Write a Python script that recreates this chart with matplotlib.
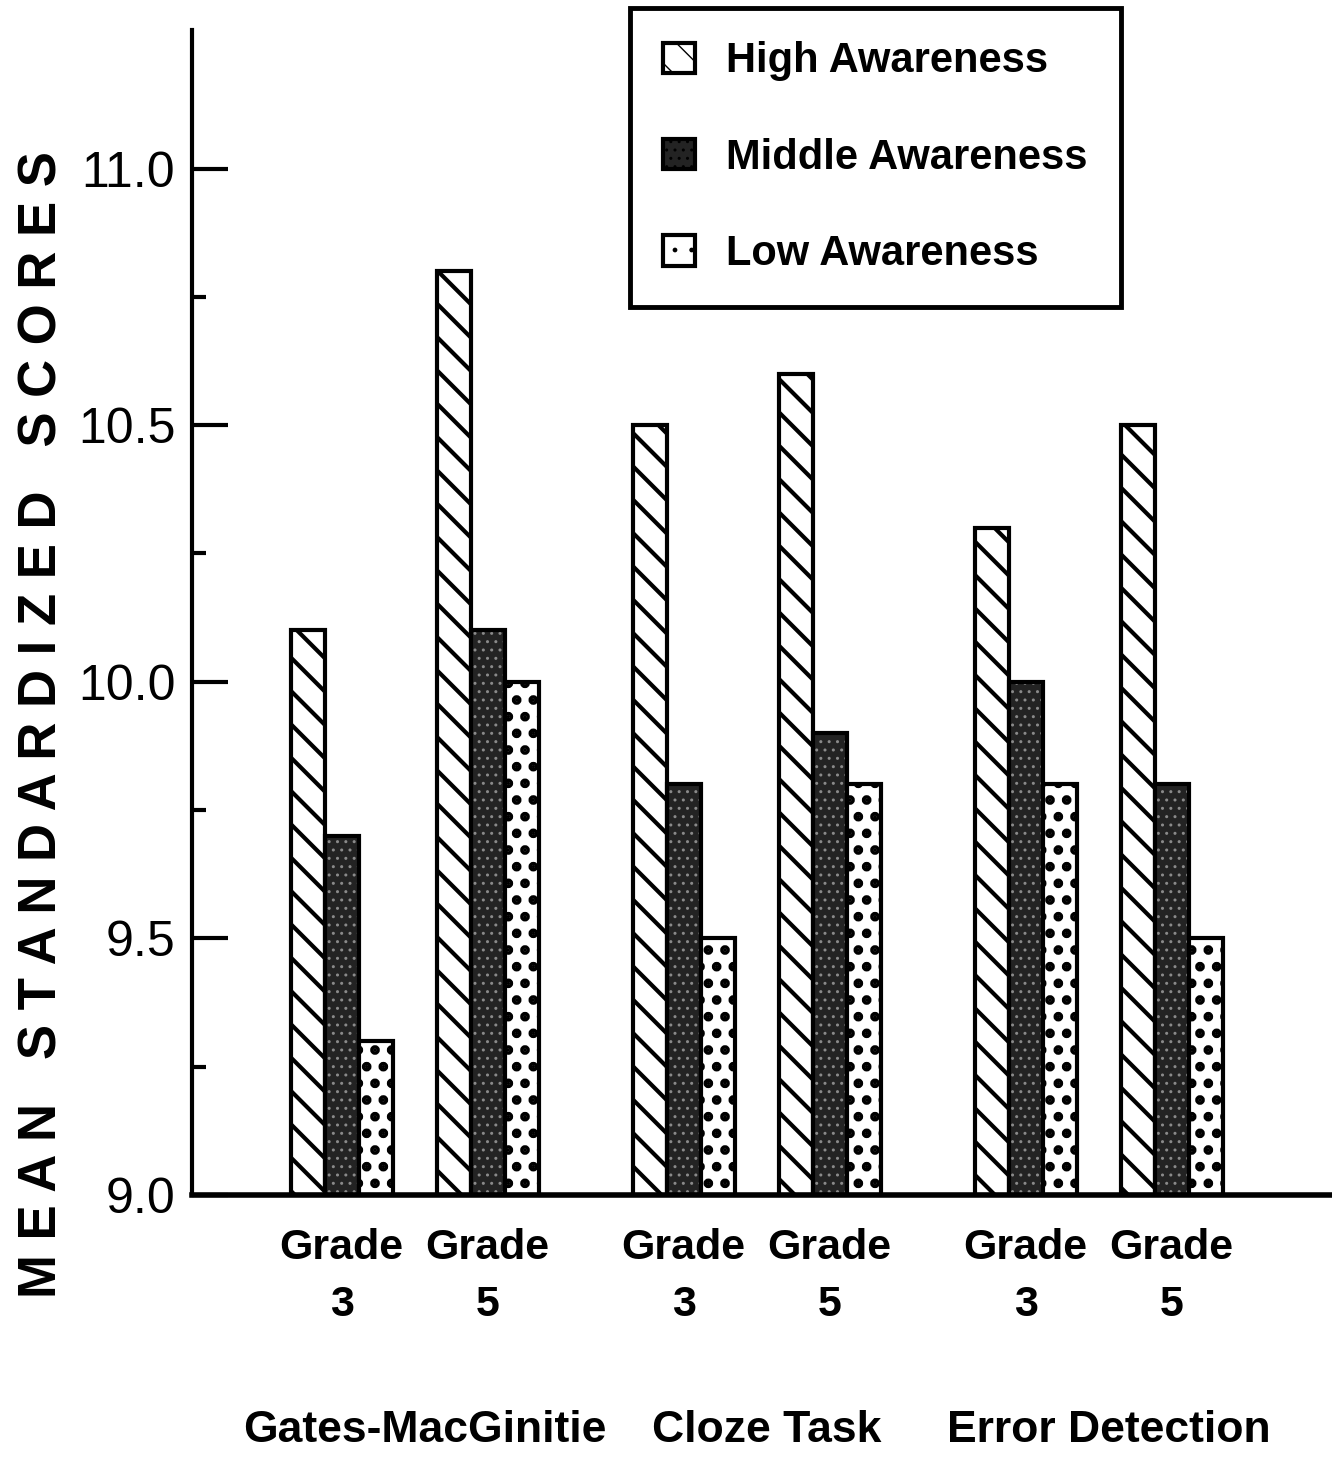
import matplotlib
matplotlib.use('Agg')
import matplotlib.pyplot as plt
import matplotlib.transforms as mtransforms
from matplotlib.patches import Patch
from matplotlib.ticker import FixedLocator
import numpy as np

plt.rcParams['font.family'] = ['Liberation Sans', 'DejaVu Sans']

# values (mean standardized scores)
tests = ['Gates-MacGinitie', 'Cloze Task', 'Error Detection']
grades = ['Grade\n3', 'Grade\n5']
series = ['High Awareness', 'Middle Awareness', 'Low Awareness']
high = [10.1, 10.8, 10.5, 10.6, 10.3, 10.5]
middle = [9.7, 10.1, 9.8, 9.9, 10.0, 9.8]
low = [9.3, 10.0, 9.5, 9.8, 9.8, 9.5]
yticks = [9.0, 9.5, 10.0, 10.5, 11.0]
yminor = [9.25, 9.75, 10.25, 10.75]

W, H = 1332, 1464
fig = plt.figure(figsize=(W / 100, H / 100), dpi=100)
ax = fig.add_axes([192 / W, 1 - 1195 / H, 1 - 192 / W, (1195 - 30) / H])

# cluster centres, in pixel-ish units measured from the y axis
centers = []
for g in range(len(tests)):
    for k in range(len(grades)):
        centers.append(149.5 + g * 342 + k * 146)
centers = np.array(centers)
bw = 34

# (face, hatch, hatch colour, hatch width) for high / middle / low
styles = [
    ('white', '\\', 'black', 3.0),
    ('#232323', '..', '#8a8a8a', 1.0),
    ('white', '.', 'black', 4.5),
]
for i, vals in enumerate([high, middle, low]):
    face, hatch, hcol, hlw = styles[i]
    x = centers + (i - 1) * bw
    h = np.array(vals) - 9.0
    with plt.rc_context({'hatch.linewidth': hlw}):
        ax.bar(x, h, bottom=9.0, width=bw, facecolor=face, hatch=hatch,
               edgecolor=hcol, linewidth=0)
    ax.bar(x, h, bottom=9.0, width=bw, facecolor='none', edgecolor='black',
           linewidth=3)

ax.set_xlim(0, W - 192)
ax.set_ylim(9.0, 11.27)

ax.spines['top'].set_visible(False)
ax.spines['right'].set_visible(False)
ax.spines['left'].set_linewidth(3)
ax.spines['bottom'].set_linewidth(4)

ax.set_yticks(yticks)
ax.set_yticklabels([f'{v:.1f}' for v in yticks], fontsize=36)
ax.yaxis.set_minor_locator(FixedLocator(yminor))
ax.tick_params(axis='y', which='major', direction='in', length=26, width=3, pad=12)
ax.tick_params(axis='y', which='minor', direction='in', length=10, width=3)
ax.set_xticks(centers)
ax.set_xticklabels(grades * len(tests), fontsize=31, fontweight='bold',
                   linespacing=1.55)
ax.tick_params(axis='x', length=0, pad=24)

fig.text(43 / W, 1 - 725 / H, 'M E A N   S T A N D A R D I Z E D   S C O R E S',
         rotation=90, ha='center', va='center', fontsize=38, fontweight='bold')

trans = mtransforms.blended_transform_factory(ax.transData, fig.transFigure)
for g, name in enumerate(tests):
    x = (centers[2 * g] + centers[2 * g + 1]) / 2
    ax.text(x + 10, 1 - 1430 / H, name, transform=trans,
            ha='center', va='center', fontsize=32, fontweight='bold')

handles = []
for face, hatch, hcol, hlw in styles:
    with plt.rc_context({'hatch.linewidth': min(hlw, 2.5)}):
        handles.append(Patch(facecolor=face, hatch=hatch, edgecolor='black',
                             linewidth=3))
leg = fig.legend(handles, series, loc='upper left', bbox_to_anchor=(630 / W, 1 - 8 / H),
                 prop={'size': 30, 'weight': 'bold'}, frameon=True, fancybox=False,
                 framealpha=1, handlelength=0.75, handleheight=0.75,
                 handletextpad=0.75, labelspacing=1.35, borderpad=0.8,
                 borderaxespad=0, edgecolor='black')
leg.get_frame().set_linewidth(3.5)

fig.savefig('out.png', dpi=100)
